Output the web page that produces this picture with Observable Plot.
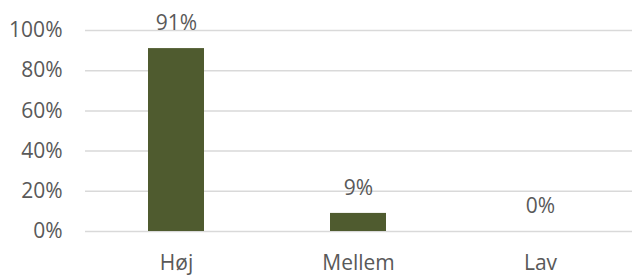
<!DOCTYPE html>
<html>
<head>
<meta charset="utf-8">
<script src="https://cdn.jsdelivr.net/npm/d3@7"></script>
<script src="https://cdn.jsdelivr.net/npm/@observablehq/plot@0.6"></script>
<style>
  html, body { margin: 0; padding: 0; background: #fff; }
  #chart svg { display: block; }
</style>
</head>
<body>
<div id="chart"></div>
<script>
const categories = ["Høj", "Mellem", "Lav"];
const values = [0.91, 0.09, 0.0];
const yTicks = [0, 0.2, 0.4, 0.6, 0.8, 1.0];

const data = categories.map((c, i) => ({ category: c, value: values[i] }));
const fmt = d3.format(".0%");

const chart = Plot.plot({
  width: 633,
  height: 277,
  marginLeft: 85,
  marginRight: 1,
  marginTop: 30,
  marginBottom: 46,
  style: { fontFamily: "'Open Sans', sans-serif", fontSize: "21px", color: "#595959", background: "#fff" },
  x: { domain: categories, paddingInner: 0.69, paddingOuter: 0.345, label: null },
  y: { domain: [0, 1], ticks: yTicks, tickFormat: fmt, label: null },
  marks: [
    Plot.ruleY(yTicks, { stroke: "#d9d9d9", strokeWidth: 1.5 }),
    Plot.barY(data, { x: "category", y: "value", fill: "#4f5b2f" }),
    Plot.text(data, { x: "category", y: "value", text: d => fmt(d.value), dy: -25, lineAnchor: "middle", fill: "#595959", fontSize: 21 }),
    Plot.axisY({ ticks: yTicks, tickFormat: fmt, tickSize: 0, tickPadding: 23, fontSize: 21, label: null, fill: "#595959" }),
    Plot.axisX({ tickSize: 0, tickPadding: 24, fontSize: 21, label: null, fill: "#595959" })
  ]
});
document.getElementById("chart").append(chart);
</script>
</body>
</html>
